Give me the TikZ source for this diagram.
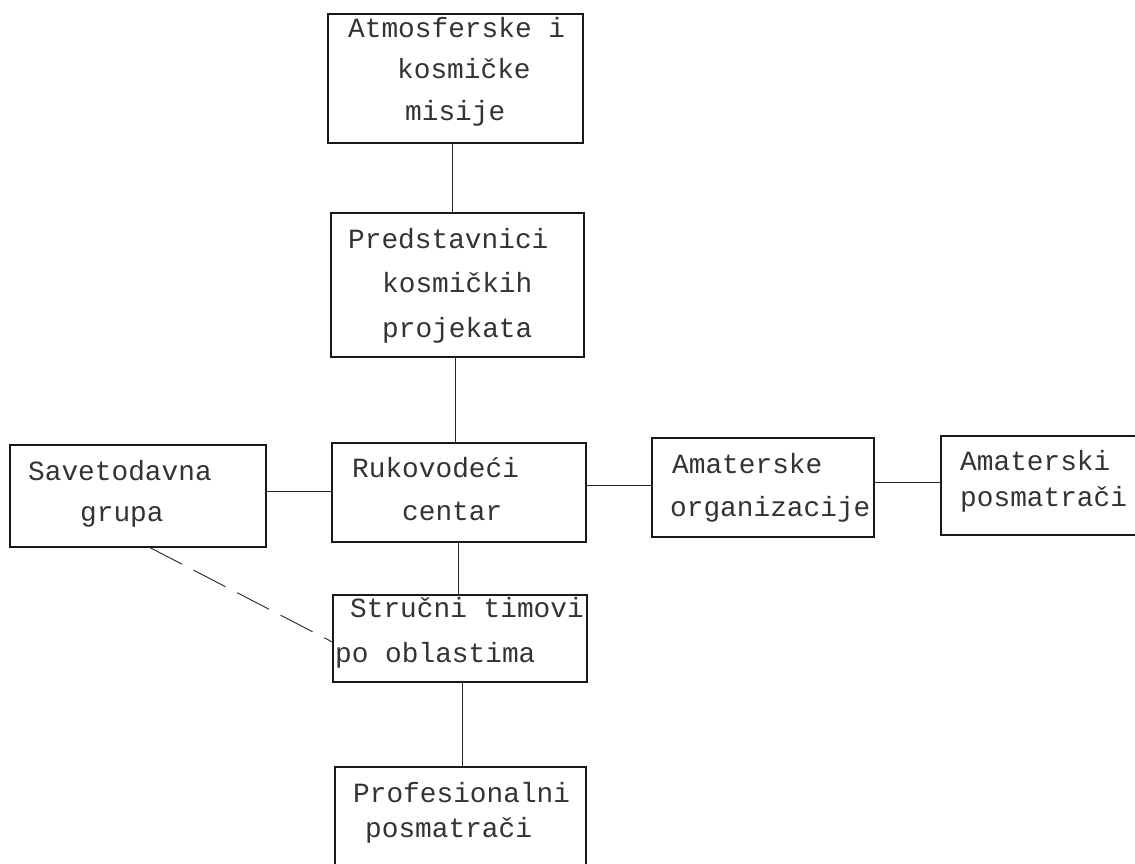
\documentclass[tikz,border=0pt]{standalone}
\usepackage{fontspec}
\setmonofont{Liberation Mono}
\usetikzlibrary{calc}
\tikzset{
  box/.style={draw=black!90, line width=1.2pt, rectangle, inner sep=0pt},
  conn/.style={draw=black!85, line width=0.9pt},
  dconn/.style={conn, dash pattern=on 36pt off 13pt},
  txt/.style={anchor=base west, inner sep=0pt, font=\ttfamily\fontsize{27.8}{33}\selectfont, text=black!80},
}
\begin{document}
\begin{tikzpicture}[x=1pt,y=-1pt]
\path[use as bounding box] (0,0) rectangle (1135,863);
\clip (0,0) rectangle (1135,863);
\fill[white] (0,0) rectangle (1135,863);

% boxes
\node[box, minimum width=255pt, minimum height=129pt] (atm)   at (455.5,78.5) {};
\node[box, minimum width=253pt, minimum height=144pt] (pred)  at (457.5,285)  {};
\node[box, minimum width=254pt, minimum height=99pt]  (ruk)   at (459,492.5)  {};
\node[box, minimum width=256pt, minimum height=102pt] (sav)   at (138,496)    {};
\node[box, minimum width=222pt, minimum height=99pt]  (amorg) at (763,487.5)  {};
\node[box, minimum width=209pt, minimum height=99pt]  (ampos) at (1045.5,485.5) {};
\node[box, minimum width=254pt, minimum height=87pt]  (stru)  at (460,638.5)  {};
\node[box, minimum width=251pt, minimum height=113pt] (prof)  at (460.5,823.5) {};

% texts
\node[txt] (atm1) at (348,37)  {Atmosferske i};
\node[txt] (atm2) at (397,78)  {kosmičke};
\node[txt] (atm3) at (405,120) {misije};

\node[txt] (pred1) at (348,248) {Predstavnici};
\node[txt] (pred2) at (382,292) {kosmičkih};
\node[txt] (pred3) at (382,337) {projekata};

\node[txt] (sav1) at (28,480) {Savetodavna};
\node[txt] (sav2) at (80,521) {grupa};

\node[txt] (ruk1) at (352,477) {Rukovodeći};
\node[txt] (ruk2) at (402,520) {centar};

\node[txt] (amorg1) at (672,473) {Amaterske};
\node[txt] (amorg2) at (670,516) {organizacije};

\node[txt] (ampos1) at (960,470) {Amaterski};
\node[txt] (ampos2) at (960,506) {posmatrači};

\node[txt] (stru1) at (350,617) {Stručni timovi};
\node[txt] (stru2) at (335,662) {po oblastima};

\node[txt] (prof1) at (353,802) {Profesionalni};
\node[txt] (prof2) at (365,837) {posmatrači};

% connectors
\draw[conn] ([xshift=-3pt]atm.south) -- ([xshift=-3pt]atm.south |- pred.north);
\draw[conn] ([xshift=-2pt]pred.south) -- ([xshift=-2pt]pred.south |- ruk.north);
\draw[conn] ([xshift=-1pt]ruk.south) -- ([xshift=-1pt]ruk.south |- stru.north);
\draw[conn] ([xshift=2pt]stru.south) -- ([xshift=2pt]stru.south |- prof.north);
\draw[conn] ([yshift=5pt]sav.east) -- ([yshift=5pt]sav.east -| ruk.west);
\draw[conn] ([yshift=2.5pt]amorg.west) -- ([yshift=2.5pt]amorg.west -| ruk.east);
\draw[conn] ([yshift=3.5pt]ampos.west) -- ([yshift=3.5pt]ampos.west -| amorg.east);
\draw[dconn] ([xshift=12pt]sav.south) -- ([yshift=-3.5pt]stru.west);
\end{tikzpicture}
\end{document}
